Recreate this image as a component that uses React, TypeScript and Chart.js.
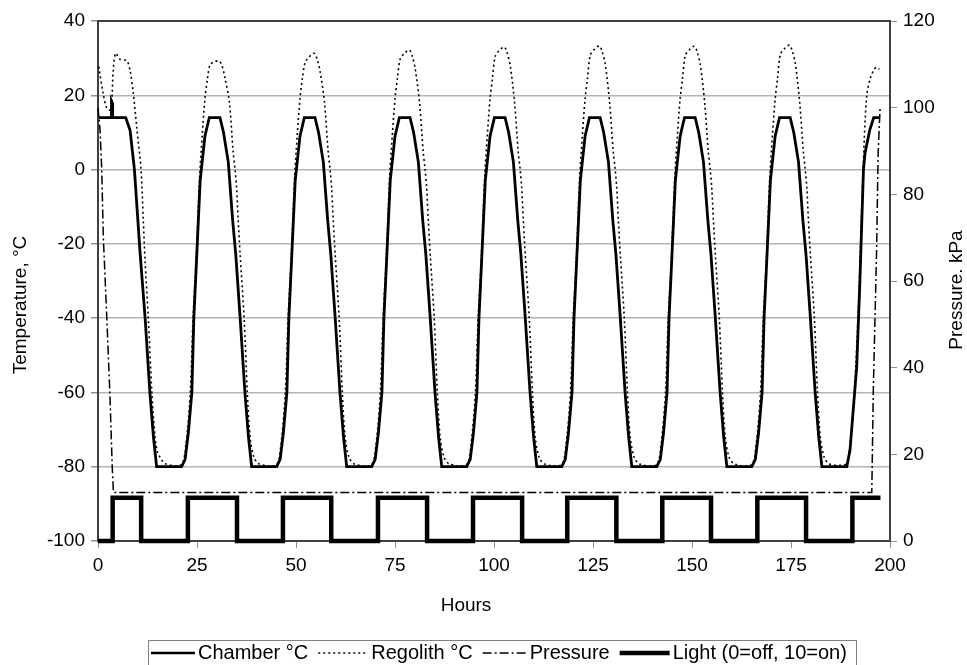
import React, { useEffect, useRef } from 'react';
import { Chart, registerables } from 'chart.js';

Chart.register(...registerables);

// ---------- data ----------
const seriesLabels = ['Chamber °C', 'Regolith °C', 'Pressure', 'Light (0=off, 10=on)'];
const xTitle = 'Hours';
const yTitle = 'Temperature, °C';
const y1Title = 'Pressure. kPa';

const chamber: [number, number][] = [
  [0.2, 14], [3.3, 14], [3.4, 18.5], [3.6, 18], [3.7, 14], [7.0, 14], [8.1, 10.6], [9.2, 0], [10.6, -22], [11.9, -40], [13.1, -60], [14.0, -72], [14.8, -80],
  [21.1, -80], [22.0, -78], [22.8, -71], [23.7, -60], [24.2, -40], [24.9, -24], [25.8, -3], [27.0, 9], [28.1, 14], [30.8, 14], [31.7, 10], [32.9, 2], [34.0, -13.6], [34.8, -23], [35.9, -40], [37.1, -60], [38.0, -72], [38.8, -80],
  [45.1, -80], [46.0, -78], [46.8, -71], [47.7, -60], [48.2, -40], [48.9, -24], [49.8, -3], [51.0, 9], [52.1, 14], [54.8, 14], [55.7, 10], [56.9, 2], [58.0, -13.6], [58.8, -23], [59.9, -40], [61.1, -60], [62.0, -72], [62.8, -80],
  [69.1, -80], [70.0, -78], [70.8, -71], [71.7, -60], [72.2, -40], [72.9, -24], [73.8, -3], [75.0, 9], [76.1, 14], [78.8, 14], [79.7, 10], [80.9, 2], [82.0, -13.6], [82.8, -23], [83.9, -40], [85.1, -60], [86.0, -72], [86.8, -80],
  [93.1, -80], [94.0, -78], [94.8, -71], [95.7, -60], [96.2, -40], [96.9, -24], [97.8, -3], [99.0, 9], [100.1, 14], [102.8, 14], [103.7, 10], [104.9, 2], [106.0, -13.6], [106.8, -23], [107.9, -40], [109.1, -60], [110.0, -72], [110.8, -80],
  [117.1, -80], [118.0, -78], [118.8, -71], [119.7, -60], [120.2, -40], [120.9, -24], [121.8, -3], [123.0, 9], [124.1, 14], [126.8, 14], [127.7, 10], [128.9, 2], [130.0, -13.6], [130.8, -23], [131.9, -40], [133.1, -60], [134.0, -72], [134.8, -80],
  [141.1, -80], [142.0, -78], [142.8, -71], [143.7, -60], [144.2, -40], [144.9, -24], [145.8, -3], [147.0, 9], [148.1, 14], [150.8, 14], [151.7, 10], [152.9, 2], [154.0, -13.6], [154.8, -23], [155.9, -40], [157.1, -60], [158.0, -72], [158.8, -80],
  [165.1, -80], [166.0, -78], [166.8, -71], [167.7, -60], [168.2, -40], [168.9, -24], [169.8, -3], [171.0, 9], [172.1, 14], [174.8, 14], [175.7, 10], [176.9, 2], [178.0, -13.6], [178.8, -23], [179.9, -40], [181.1, -60], [182.0, -72], [182.8, -80],
  [189.1, -80], [189.9, -75.5], [191.6, -53], [192.4, -30], [193.3, 0], [193.7, 4.5], [194.9, 10.7], [195.9, 14], [197.5, 14],
];

const regolith: [number, number][] = [
  [0.2, 27.7], [1.3, 20.5], [2.2, 16.5], [3.0, 16.0], [3.45, 17.9], [3.85, 26.8], [4.47, 31.3], [5.55, 29.7], [7.25, 29.3], [8.08, 26.8], [8.92, 20.5], [9.77, 11.5], [10.86, 0], [11.44, -13.6], [11.87, -24.3], [12.7, -40], [13.6, -60], [14.4, -72], [15.0, -76], [15.7, -77.5], [17.0, -79.2],
  [21.0, -79.5], [22.2, -74], [23.3, -60], [24.0, -40], [24.8, -24], [25.6, -3], [26.3, 9], [27.0, 19], [27.6, 24.1], [28.3, 28.2], [29.5, 29.1], [30.6, 29.2], [31.3, 28], [32.1, 24.5], [33.2, 18], [34.1, 5], [34.6, 0], [35.0, -5], [35.4, -13.6], [35.9, -23], [36.9, -40], [37.7, -60], [38.4, -72], [39.4, -77.5], [40.8, -79.3],
  [45.0, -79.5], [46.2, -74], [47.3, -60], [48.0, -40], [48.8, -24], [49.6, -3], [50.3, 9], [51.0, 19], [51.6, 24.5], [52.3, 28.8], [53.3, 30.3], [54.6, 31.3], [55.3, 29.8], [56.1, 26.3], [57.2, 18], [58.1, 5], [58.6, 0], [59.0, -5], [59.4, -13.6], [59.9, -23], [60.9, -40], [61.7, -60], [62.4, -72], [63.4, -77.5], [64.8, -79.3],
  [69.0, -79.5], [70.2, -74], [71.3, -60], [72.0, -40], [72.8, -24], [73.6, -3], [74.3, 9], [75.0, 19], [75.6, 24.5], [76.3, 29.7], [77.3, 31.2], [78.6, 32.2], [79.3, 30.7], [80.1, 27.2], [81.2, 18], [82.1, 5], [82.6, 0], [83.0, -5], [83.4, -13.6], [83.9, -23], [84.9, -40], [85.7, -60], [86.4, -72], [87.4, -77.5], [88.8, -79.3],
  [93.0, -79.5], [94.2, -74], [95.3, -60], [96.0, -40], [96.8, -24], [97.6, -3], [98.3, 9], [99.0, 19], [99.6, 24.5], [100.3, 30.5], [101.3, 32], [102.6, 33], [103.3, 31.5], [104.1, 28], [105.2, 18], [106.1, 5], [106.6, 0], [107.0, -5], [107.4, -13.6], [107.9, -23], [108.9, -40], [109.7, -60], [110.4, -72], [111.4, -77.5], [112.8, -79.3],
  [117.0, -79.5], [118.2, -74], [119.3, -60], [120.0, -40], [120.8, -24], [121.6, -3], [122.3, 9], [123.0, 19], [123.6, 24.5], [124.3, 30.8], [125.3, 32.3], [126.6, 33.3], [127.3, 31.8], [128.1, 28.3], [129.2, 18], [130.1, 5], [130.6, 0], [131.0, -5], [131.4, -13.6], [131.9, -23], [132.9, -40], [133.7, -60], [134.4, -72], [135.4, -77.5], [136.8, -79.3],
  [141.0, -79.5], [142.2, -74], [143.3, -60], [144.0, -40], [144.8, -24], [145.6, -3], [146.3, 9], [147.0, 19], [147.6, 24.5], [148.3, 30.7], [149.3, 32.2], [150.6, 33.2], [151.3, 31.7], [152.1, 28.2], [153.2, 18], [154.1, 5], [154.6, 0], [155.0, -5], [155.4, -13.6], [155.9, -23], [156.9, -40], [157.7, -60], [158.4, -72], [159.4, -77.5], [160.8, -79.3],
  [165.0, -79.5], [166.2, -74], [167.3, -60], [168.0, -40], [168.8, -24], [169.6, -3], [170.3, 9], [171.0, 19], [171.6, 24.5], [172.3, 31], [173.3, 32.5], [174.6, 33.5], [175.3, 32], [176.1, 28.5], [177.2, 18], [178.1, 5], [178.6, 0], [179.0, -5], [179.4, -13.6], [179.9, -23], [180.9, -40], [181.7, -60], [182.4, -72], [183.4, -77.5], [184.8, -79.3],
  [189.0, -79.3], [189.7, -76], [190.6, -66], [191.4, -52], [192.2, -32], [193.2, 0], [194.1, 19.6], [195.0, 24.5], [195.9, 26.8], [196.5, 27.5], [197.3, 27],
];

const pressure: [number, number][] = [
  [0, 100], [0.5, 95], [0.93, 86], [1.35, 70], [2.2, 52], [3.0, 34], [3.6, 17], [3.9, 11.2],
  [195.4, 11.2], [195.8, 35.6], [196.6, 66.4], [197.0, 89.5], [197.5, 100],
];

const light: [number, number][] = [
  [0, 0], [3.7, 0], [3.7, 10], [10.9, 10], [10.9, 0],
  [22.7, 0], [22.7, 10], [35.1, 10], [35.1, 0],
  [46.7, 0], [46.7, 10], [58.9, 10], [58.9, 0],
  [70.7, 0], [70.7, 10], [83.1, 10], [83.1, 0],
  [94.7, 0], [94.7, 10], [107.1, 10], [107.1, 0],
  [118.5, 0], [118.5, 10], [130.9, 10], [130.9, 0],
  [142.5, 0], [142.5, 10], [154.8, 10], [154.8, 0],
  [166.5, 0], [166.5, 10], [178.8, 10], [178.8, 0],
  [190.5, 0], [190.5, 10], [197.6, 10],
];

// ---------- styling ----------
const FONT = '"Liberation Sans", Arial, Helvetica, sans-serif';
const toXY = (arr: [number, number][]) => arr.map(([x, y]) => ({ x, y }));

const titlesPlugin = {
  id: 'titlesAndLegend',
  afterDraw(chart: any) {
    const { ctx, chartArea } = chart;
    ctx.save();
    // top frame line
    ctx.strokeStyle = '#404040';
    ctx.lineWidth = 2;
    ctx.beginPath();
    ctx.moveTo(chartArea.left - 1, chartArea.top);
    ctx.lineTo(chartArea.right + 1, chartArea.top);
    ctx.stroke();

    ctx.fillStyle = '#000';
    ctx.font = `19px ${FONT}`;
    ctx.textAlign = 'center';
    ctx.textBaseline = 'middle';
    ctx.fillText(xTitle, 466, 606);

    ctx.save();
    ctx.translate(21, 305);
    ctx.rotate(-Math.PI / 2);
    ctx.fillText(yTitle, 0, 0);
    ctx.restore();

    ctx.save();
    ctx.translate(957, 290);
    ctx.rotate(-Math.PI / 2);
    ctx.fillText(y1Title, 0, 0);
    ctx.restore();

    // legend box
    ctx.strokeStyle = '#808080';
    ctx.lineWidth = 1;
    ctx.strokeRect(148.5, 640.5, 708, 40);

    const styles = [
      { dash: [], width: 2.5, len: 44 },
      { dash: [2, 3], width: 1.6, len: 50 },
      { dash: [9, 3, 2, 3], width: 1.5, len: 44 },
      { dash: [], width: 4.5, len: 50 },
    ];
    ctx.textAlign = 'left';
    ctx.font = `20px ${FONT}`;
    let x = 151;
    const y = 653;
    chart.data.datasets.forEach((ds: any, i: number) => {
      const s = styles[i];
      ctx.strokeStyle = '#000';
      ctx.lineWidth = s.width;
      ctx.setLineDash(s.dash);
      ctx.beginPath();
      ctx.moveTo(x, y);
      ctx.lineTo(x + s.len, y);
      ctx.stroke();
      ctx.setLineDash([]);
      x += s.len + 3;
      ctx.fillText(ds.label, x, y);
      x += ctx.measureText(ds.label).width + 10;
    });
    ctx.restore();
  },
};

export default function App() {
  const ref = useRef<HTMLCanvasElement | null>(null);
  useEffect(() => {
    document.body.style.margin = '0';
    const canvas = ref.current;
    if (!canvas) return;
    Chart.defaults.font.family = FONT;
    const chart = new Chart(canvas, {
      type: 'line',
      data: {
        datasets: [
          {
            label: seriesLabels[0], data: toXY(chamber), yAxisID: 'y',
            borderColor: '#000', borderWidth: 2.8, pointRadius: 0, tension: 0, clip: false,
          },
          {
            label: seriesLabels[1], data: toXY(regolith), yAxisID: 'y',
            borderColor: '#000', borderWidth: 1.6, borderDash: [2, 3], pointRadius: 0, tension: 0.3, clip: false,
          },
          {
            label: seriesLabels[2], data: toXY(pressure), yAxisID: 'y1',
            borderColor: '#000', borderWidth: 1.5, borderDash: [9, 3, 2, 3], pointRadius: 0, tension: 0, clip: false,
          },
          {
            label: seriesLabels[3], data: toXY(light), yAxisID: 'y1',
            borderColor: '#000', borderWidth: 4.5, pointRadius: 0, tension: 0, clip: false,
            borderJoinStyle: 'miter',
          },
        ] as any,
      },
      options: {
        responsive: false,
        animation: false,
        devicePixelRatio: 1,
        layout: { padding: { top: 21, left: 0, right: 0, bottom: 0 } },
        plugins: { legend: { display: false }, tooltip: { enabled: false } },
        scales: {
          x: {
            type: 'linear', min: 0, max: 200,
            ticks: { stepSize: 25, color: '#000', font: { size: 19 }, padding: 6, maxRotation: 0 },
            grid: { drawOnChartArea: false, drawTicks: true, tickLength: 7, tickColor: '#909090' },
            border: { color: '#404040', width: 2 },
            afterFit: (s: any) => { s.height = 124; },
          },
          y: {
            position: 'left', min: -100, max: 40,
            ticks: { stepSize: 20, color: '#000', font: { size: 19 }, padding: 6 },
            grid: { color: '#b4b4b4', lineWidth: 1.5, tickLength: 7, tickColor: '#909090' },
            border: { color: '#404040', width: 2 },
            afterFit: (s: any) => { s.width = 98; },
          },
          y1: {
            position: 'right', min: 0, max: 120,
            ticks: { stepSize: 20, color: '#000', font: { size: 19 }, padding: 6 },
            grid: { drawOnChartArea: false, tickLength: 7, tickColor: '#909090' },
            border: { color: '#404040', width: 2 },
            afterFit: (s: any) => { s.width = 77; },
          },
        },
      } as any,
      plugins: [titlesPlugin],
    });
    return () => chart.destroy();
  }, []);
  return (
    <div style={{ width: 967, height: 665 }}>
      <canvas ref={ref} width={967} height={665} style={{ display: 'block' }} />
    </div>
  );
}
